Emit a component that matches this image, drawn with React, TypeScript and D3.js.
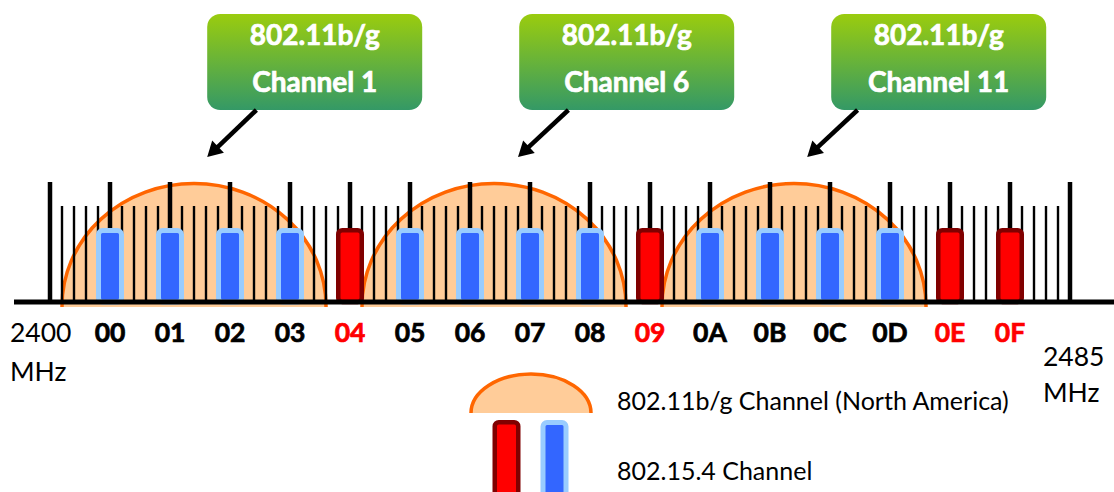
import React from 'react';
import * as d3 from 'd3';

// ---- data ----
const zigbeeLabels = ['00','01','02','03','04','05','06','07','08','09','0A','0B','0C','0D','0E','0F'];
const zigbeeFreqs = [2405,2410,2415,2420,2425,2430,2435,2440,2445,2450,2455,2460,2465,2470,2475,2480];
const zigbeeClear = [false,false,false,false,true,false,false,false,false,true,false,false,false,false,true,true];
const wifiLabels = ['Channel 1','Channel 6','Channel 11'];
const wifiCenters = [2412, 2437, 2462];
const wifiHalfWidth = 11; // MHz
const freqStart = 2400;
const freqEnd = 2485;
// callout anchors (MHz): box left edge, arrow start, arrow tip
const calloutBoxLeft = [2413.1, 2439.1, 2465.1];
const calloutArrowStart = [2417.2, 2443.2, 2467.3];
const calloutArrowTip = [2413.1, 2439.0, 2463.1];

const FONT = 'Lato, "Open Sans", sans-serif';

export default function App() {
  const W = 1114, H = 492;
  const x = d3.scaleLinear().domain([freqStart, freqEnd]).range([50, 1070]);
  const baseY = 302;
  const arcCY = 306;
  const arcTop = 183.5;
  const minorTicks = d3.range(freqStart, freqEnd + 1).filter(f => (f - freqStart) % 5 !== 0);
  const majorTicks = d3.range(freqStart, freqEnd + 1, 5);

  const arcFill = (cx: number, rx: number, cy: number, ry: number, bottom: number) =>
    `M${cx - rx},${bottom} L${cx - rx},${cy} A${rx},${ry} 0 0 1 ${cx + rx},${cy} L${cx + rx},${bottom} Z`;
  const arcLine = (cx: number, rx: number, cy: number, ry: number, bottom: number) =>
    `M${cx - rx},${bottom} L${cx - rx},${cy} A${rx},${ry} 0 0 1 ${cx + rx},${cy} L${cx + rx},${bottom}`;

  const bar = (cx: number, top: number, bottom: number, clear: boolean, key: string | number) => {
    const sw = clear ? 4.5 : 5;
    return (
      <rect key={key} x={cx - 14 + sw / 2} y={top + sw / 2} width={28 - sw} height={bottom - top - sw / 2}
        rx={4} ry={4}
        fill={clear ? '#FF0000' : '#3366FF'} stroke={clear ? '#800000' : '#99CCFF'} strokeWidth={sw} />
    );
  };

  const arrow = (x1: number, y1: number, x2: number, y2: number, key: number) => {
    const dx = x2 - x1, dy = y2 - y1;
    const len = Math.hypot(dx, dy);
    const ux = dx / len, uy = dy / len;
    const hl = 15, hw = 8.5;
    const bx = x2 - ux * hl, by = y2 - uy * hl;
    const px = -uy, py = ux;
    return (
      <g key={key}>
        <line x1={x1} y1={y1} x2={bx + ux * 2} y2={by + uy * 2} stroke="#000" strokeWidth={4.5} />
        <polygon points={`${x2},${y2} ${bx + px * hw},${by + py * hw} ${bx - px * hw},${by - py * hw}`} fill="#000" />
      </g>
    );
  };

  return (
    <svg width={W} height={H} style={{ position: 'absolute', left: 0, top: 0, background: '#fff' }}
      fontFamily={FONT}>
      <defs>
        <linearGradient id="boxGrad" x1="0" y1="0" x2="0" y2="1">
          <stop offset="0" stopColor="#9ACC0E" />
          <stop offset="1" stopColor="#349966" />
        </linearGradient>
      </defs>

      {/* Wi-Fi channel arcs */}
      {wifiCenters.map((c, i) => (
        <path key={'af' + i} d={arcFill(x(c), x(c + wifiHalfWidth) - x(c), arcCY, arcCY - arcTop, 307)} fill="#FFCC99" />
      ))}
      {wifiCenters.map((c, i) => (
        <path key={'as' + i} d={arcLine(x(c), x(c + wifiHalfWidth) - x(c), arcCY, arcCY - arcTop, 307)}
          fill="none" stroke="#FF6600" strokeWidth={3.5} />
      ))}

      {/* ticks */}
      {minorTicks.map(f => (
        <line key={'mt' + f} x1={x(f)} x2={x(f)} y1={206} y2={baseY} stroke="#000" strokeWidth={2.4} />
      ))}
      {majorTicks.map(f => (
        <line key={'Mt' + f} x1={x(f)} x2={x(f)} y1={182} y2={baseY} stroke="#000" strokeWidth={4.5} />
      ))}

      {/* 802.15.4 bars */}
      {zigbeeFreqs.map((f, i) => bar(x(f), 228, baseY, zigbeeClear[i], 'b' + i))}

      {/* baseline */}
      <line x1={14} x2={W} y1={baseY} y2={baseY} stroke="#000" strokeWidth={5} />

      {/* channel labels */}
      {zigbeeFreqs.map((f, i) => (
        <text key={'l' + i} x={x(f)} y={342} textAnchor="middle" fontWeight={700} fontSize={26.5}
          fill={zigbeeClear[i] ? '#FF0000' : '#000'} stroke={zigbeeClear[i] ? '#FF0000' : '#000'}
          strokeWidth={0.7}>{zigbeeLabels[i]}</text>
      ))}
      <text x={10} y={342} fontSize={26.5} fill="#000">{String(freqStart)}</text>
      <text x={10} y={381} fontSize={26.5} fill="#000">MHz</text>
      <text x={1043} y={366} fontSize={26.5} fill="#000">{String(freqEnd)}</text>
      <text x={1043} y={402} fontSize={26.5} fill="#000">MHz</text>

      {/* callouts */}
      {wifiLabels.map((lab, i) => {
        const bx = x(calloutBoxLeft[i]);
        return (
          <g key={'c' + i}>
            <rect x={bx} y={14} width={215} height={96} rx={13} ry={13} fill="url(#boxGrad)" />
            <text x={bx + 107.5} y={45} textAnchor="middle" fill="#fff" stroke="#fff" strokeWidth={0.7}
              fontWeight={700} fontSize={28}>802.11b/g</text>
            <text x={bx + 107.5} y={92} textAnchor="middle" fill="#fff" stroke="#fff" strokeWidth={0.7}
              fontWeight={700} fontSize={28}>{lab}</text>
            {arrow(x(calloutArrowStart[i]), 110, x(calloutArrowTip[i]), 157, i)}
          </g>
        );
      })}

      {/* legend */}
      <path d={arcFill(531, 60, 413, 39, 413)} fill="#FFCC99" />
      <path d={arcLine(531, 60, 413, 39, 413)} fill="none" stroke="#FF6600" strokeWidth={3.5} />
      {bar(506.5, 420, 500, true, 'lr')}
      {bar(554.5, 420, 500, false, 'lb')}
      <text x={617} y={410} fontSize={25} fill="#000">802.11b/g Channel (North America)</text>
      <text x={617} y={480} fontSize={25} fill="#000">802.15.4 Channel</text>
    </svg>
  );
}
